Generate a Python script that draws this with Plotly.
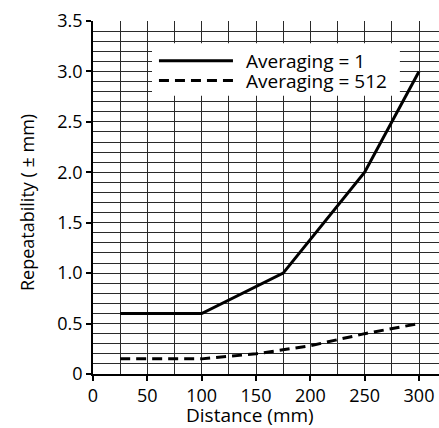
import plotly.graph_objects as go

# Data
dist_avg1 = [25, 100, 175, 250, 300]
rep_avg1 = [0.6, 0.6, 1.0, 2.0, 3.0]

dist_avg512 = [25, 100, 150, 200, 250, 300]
rep_avg512 = [0.15, 0.15, 0.2, 0.28, 0.4, 0.5]

x_ticks = [0, 50, 100, 150, 200, 250, 300]
y_ticks = [0, 0.5, 1.0, 1.5, 2.0, 2.5, 3.0, 3.5]
y_tick_text = ["0", "0.5", "1.0", "1.5", "2.0", "2.5", "3.0", "3.5"]
series_names = ["Averaging = 1", "Averaging = 512"]
x_title = "Distance (mm)"
y_title = "Repeatability ( ± mm)"

FONT = "Open Sans"
GRID = "#2a2a2a"

W, H = 439, 428
ML, MR, MT, MB = 93, 0, 21, 54
PW, PH = W - ML - MR, H - MT - MB

fig = go.Figure()
fig.add_trace(go.Scatter(x=dist_avg1, y=rep_avg1, mode="lines", name=series_names[0],
                         line=dict(color="black", width=3), showlegend=False))
fig.add_trace(go.Scatter(x=dist_avg512, y=rep_avg512, mode="lines", name=series_names[1],
                         line=dict(color="black", width=3, dash="10px,6px"), showlegend=False))

# Legend box (white, no border) and manual legend entries
fig.add_shape(type="rect", xref="x", yref="y", x0=54.3, x1=282.4, y0=2.76, y1=3.28,
              fillcolor="white", line=dict(width=0), layer="above")
legend_y = [3.105, 2.91]
dashes = ["solid", "10px,6px"]
for name, ly, d in zip(series_names, legend_y, dashes):
    fig.add_shape(type="line", xref="x", yref="y", x0=60.7, x1=128.8, y0=ly, y1=ly,
                  line=dict(color="black", width=3, dash=d), layer="above")
    fig.add_annotation(x=139.5, y=ly, xref="x", yref="y", text=name, showarrow=False,
                       xanchor="left", yanchor="middle", borderpad=0,
                       font=dict(family=FONT, size=19, color="black"))

# Axis titles placed as annotations (pixel-matched to reference)
fig.add_annotation(x=(250 - ML) / PW, y=-(415 - (H - MB)) / PH, xref="paper", yref="paper",
                   text=x_title, showarrow=False, xanchor="center", yanchor="middle",
                   borderpad=0, font=dict(family=FONT, size=19, color="black"))
fig.add_annotation(x=(27 - ML) / PW, y=((H - MB) - 203) / PH, xref="paper", yref="paper",
                   text=y_title, showarrow=False, xanchor="center", yanchor="middle",
                   textangle=-90, borderpad=0, font=dict(family=FONT, size=18, color="black"))

fig.update_layout(
    width=W, height=H,
    margin=dict(l=ML, r=MR, t=MT, b=MB),
    paper_bgcolor="white", plot_bgcolor="white",
    font=dict(family=FONT, size=18, color="black"),
)
fig.update_xaxes(
    range=[0, 318.4], tickvals=x_ticks, ticktext=[str(v) for v in x_ticks],
    showgrid=True, gridcolor=GRID, gridwidth=1.2,
    minor=dict(dtick=25, tick0=0, showgrid=True, gridcolor=GRID, gridwidth=1.2),
    showline=True, linecolor="black", linewidth=1.5,
    ticks="outside", ticklen=5, tickcolor="black", tickwidth=1.5,
    zeroline=False,
    tickfont=dict(family=FONT, size=18),
)
fig.update_yaxes(
    range=[0, 3.5], tickvals=y_ticks, ticktext=y_tick_text,
    showgrid=True, gridcolor=GRID, gridwidth=1.2,
    minor=dict(dtick=0.1, tick0=0, showgrid=True, gridcolor=GRID, gridwidth=1.2),
    showline=True, linecolor="black", linewidth=1.5,
    ticks="outside", ticklen=5, tickcolor="black", tickwidth=1.5,
    zeroline=False,
    tickfont=dict(family=FONT, size=18),
)

fig.write_html("out.html", config={"displayModeBar": False},
               post_script="document.body.style.margin='0';document.body.style.overflow='hidden';")
